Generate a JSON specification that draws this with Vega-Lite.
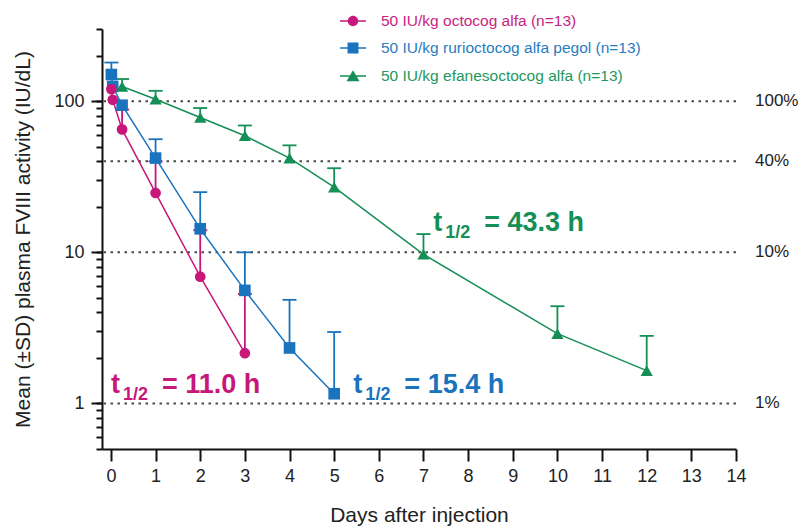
{
  "$schema": "https://vega.github.io/schema/vega-lite/v6.json",
  "width": 634,
  "height": 420,
  "autosize": {"type": "none"},
  "padding": {"left": 102, "top": 29, "right": 75, "bottom": 82},
  "background": "white",
  "config": {
    "view": {"stroke": null},
    "font": "Liberation Sans",
    "axis": {"grid": false}
  },
  "datasets": {
    "pk": [
      {"drug": "rurioctocog", "series": "50 IU/kg rurioctocog alfa pegol (n=13)", "day": 0.01, "mean": 150, "upper": 180},
      {"drug": "rurioctocog", "series": "50 IU/kg rurioctocog alfa pegol (n=13)", "day": 0.04, "mean": 125, "upper": null},
      {"drug": "rurioctocog", "series": "50 IU/kg rurioctocog alfa pegol (n=13)", "day": 0.25, "mean": 94, "upper": null},
      {"drug": "rurioctocog", "series": "50 IU/kg rurioctocog alfa pegol (n=13)", "day": 1, "mean": 42, "upper": 56},
      {"drug": "rurioctocog", "series": "50 IU/kg rurioctocog alfa pegol (n=13)", "day": 2, "mean": 14.3, "upper": 25},
      {"drug": "rurioctocog", "series": "50 IU/kg rurioctocog alfa pegol (n=13)", "day": 3, "mean": 5.6, "upper": 10},
      {"drug": "rurioctocog", "series": "50 IU/kg rurioctocog alfa pegol (n=13)", "day": 4, "mean": 2.33, "upper": 4.85},
      {"drug": "rurioctocog", "series": "50 IU/kg rurioctocog alfa pegol (n=13)", "day": 5, "mean": 1.16, "upper": 2.97},
      {"drug": "octocog", "series": "50 IU/kg octocog alfa (n=13)", "day": 0.01, "mean": 120, "upper": null},
      {"drug": "octocog", "series": "50 IU/kg octocog alfa (n=13)", "day": 0.04, "mean": 102, "upper": null},
      {"drug": "octocog", "series": "50 IU/kg octocog alfa (n=13)", "day": 0.25, "mean": 65, "upper": 88},
      {"drug": "octocog", "series": "50 IU/kg octocog alfa (n=13)", "day": 1, "mean": 24.7, "upper": 40},
      {"drug": "octocog", "series": "50 IU/kg octocog alfa (n=13)", "day": 2, "mean": 6.9, "upper": 14},
      {"drug": "octocog", "series": "50 IU/kg octocog alfa (n=13)", "day": 3, "mean": 2.15, "upper": 5.3},
      {"drug": "efanesoctocog", "series": "50 IU/kg efanesoctocog alfa (n=13)", "day": 0.25, "mean": 125, "upper": 140},
      {"drug": "efanesoctocog", "series": "50 IU/kg efanesoctocog alfa (n=13)", "day": 1, "mean": 103, "upper": 117},
      {"drug": "efanesoctocog", "series": "50 IU/kg efanesoctocog alfa (n=13)", "day": 2, "mean": 78, "upper": 90},
      {"drug": "efanesoctocog", "series": "50 IU/kg efanesoctocog alfa (n=13)", "day": 3, "mean": 59, "upper": 69},
      {"drug": "efanesoctocog", "series": "50 IU/kg efanesoctocog alfa (n=13)", "day": 4, "mean": 42, "upper": 51},
      {"drug": "efanesoctocog", "series": "50 IU/kg efanesoctocog alfa (n=13)", "day": 5, "mean": 27, "upper": 36},
      {"drug": "efanesoctocog", "series": "50 IU/kg efanesoctocog alfa (n=13)", "day": 7, "mean": 9.7, "upper": 13.2},
      {"drug": "efanesoctocog", "series": "50 IU/kg efanesoctocog alfa (n=13)", "day": 10, "mean": 2.9, "upper": 4.4},
      {"drug": "efanesoctocog", "series": "50 IU/kg efanesoctocog alfa (n=13)", "day": 12, "mean": 1.65, "upper": 2.8}
    ],
    "levels": [
      {"level": 100, "label": "100%"},
      {"level": 40, "label": "40%"},
      {"level": 10, "label": "10%"},
      {"level": 1, "label": "1%"}
    ],
    "anchor": [{}]
  },
  "layer": [
    {
      "data": {"name": "levels"},
      "mark": {"type": "rule", "color": "#4a4a4a", "strokeWidth": 2, "strokeDash": [2.5, 4.5]},
      "encoding": {
        "y": {
          "field": "level", "type": "quantitative",
          "scale": {"type": "log", "domain": [0.5, 300], "nice": false},
          "axis": null
        }
      }
    },
    {
      "data": {"name": "levels"},
      "mark": {"type": "text", "align": "left", "baseline": "middle", "dx": 19, "fontSize": 17, "color": "#222"},
      "encoding": {
        "x": {"datum": 14, "type": "quantitative"},
        "y": {"field": "level", "type": "quantitative", "axis": null},
        "text": {"field": "label"}
      }
    },
    {
      "data": {"name": "pk"},
      "mark": {"type": "line", "strokeWidth": 1.5},
      "encoding": {
        "x": {
          "field": "day", "type": "quantitative",
          "scale": {"domain": [-0.2, 14], "nice": false, "zero": false},
          "axis": {
            "values": [0, 1, 2, 3, 4, 5, 6, 7, 8, 9, 10, 11, 12, 13, 14],
            "format": "d", "tickSize": 12, "tickWidth": 2, "tickColor": "#111",
            "domainColor": "#111", "domainWidth": 2,
            "labelFontSize": 18, "labelColor": "#222", "labelPadding": 6,
            "labelFlush": false, "labelOverlap": false,
            "title": "Days after injection", "titleFontSize": 21,
            "titleFontWeight": "normal", "titleColor": "#222", "titlePadding": 19
          }
        },
        "y": {
          "field": "mean", "type": "quantitative",
          "axis": {
            "orient": "left", "values": [1, 10, 100],
            "tickSize": 11, "tickWidth": 2, "tickColor": "#111",
            "labels": false, "domain": false, "title": null
          }
        },
        "detail": {"field": "drug"},
        "color": {
          "condition": [
            {"test": "datum.drug === 'octocog'", "value": "#c7177b"},
            {"test": "datum.drug === 'rurioctocog'", "value": "#1a73bd"}
          ],
          "value": "#148f55"
        }
      }
    },
    {
      "data": {"name": "pk"},
      "transform": [{"filter": "isValid(datum.upper)"}],
      "mark": {"type": "rule", "strokeWidth": 1.8},
      "encoding": {
        "x": {"field": "day", "type": "quantitative"},
        "y": {"field": "mean", "type": "quantitative", "axis": null},
        "y2": {"field": "upper"},
        "color": {
          "condition": [
            {"test": "datum.drug === 'octocog'", "value": "#c7177b"},
            {"test": "datum.drug === 'rurioctocog'", "value": "#1a73bd"}
          ],
          "value": "#148f55"
        }
      }
    },
    {
      "data": {"name": "pk"},
      "transform": [{"filter": "isValid(datum.upper)"}],
      "mark": {"type": "tick", "orient": "horizontal", "size": 14, "thickness": 1.8, "opacity": 1},
      "encoding": {
        "x": {"field": "day", "type": "quantitative"},
        "y": {"field": "upper", "type": "quantitative", "axis": null},
        "color": {
          "condition": [
            {"test": "datum.drug === 'octocog'", "value": "#c7177b"},
            {"test": "datum.drug === 'rurioctocog'", "value": "#1a73bd"}
          ],
          "value": "#148f55"
        }
      }
    },
    {
      "data": {"name": "pk"},
      "mark": {"type": "point", "filled": true, "opacity": 1},
      "encoding": {
        "x": {"field": "day", "type": "quantitative"},
        "y": {
          "field": "mean", "type": "quantitative",
          "axis": {
            "orient": "left",
            "values": [0.5, 0.6, 0.7, 0.8, 0.9, 1, 2, 3, 4, 5, 6, 7, 8, 9, 10, 20, 30, 40, 50, 60, 70, 80, 90, 100, 200, 300],
            "format": "~g",
            "labelExpr": "(datum.value == 1 || datum.value == 10 || datum.value == 100) ? datum.label : ''",
            "tickSize": 6, "tickWidth": 2, "tickColor": "#111",
            "domainColor": "#111", "domainWidth": 2,
            "labelFontSize": 18, "labelColor": "#222", "labelPadding": 12,
            "labelOverlap": false, "labelBound": false,
            "title": "Mean (±SD) plasma FVIII activity (IU/dL)",
            "titleFontSize": 21, "titleFontWeight": "normal", "titleColor": "#222",
            "titlePadding": 20
          }
        },
        "color": {
          "condition": [
            {"test": "datum.drug === 'octocog'", "value": "#c7177b"},
            {"test": "datum.drug === 'rurioctocog'", "value": "#1a73bd"}
          ],
          "value": "#148f55"
        },
        "shape": {
          "condition": [
            {"test": "datum.drug === 'octocog'", "value": "circle"},
            {"test": "datum.drug === 'rurioctocog'", "value": "square"}
          ],
          "value": "triangle-up"
        },
        "size": {
          "condition": [
            {"test": "datum.drug === 'octocog'", "value": 115},
            {"test": "datum.drug === 'rurioctocog'", "value": 135}
          ],
          "value": 150
        }
      }
    },
    {
      "data": {"name": "anchor"},
      "mark": {"type": "text", "text": "t", "align": "left", "baseline": "alphabetic", "fontSize": 27, "fontWeight": "bold", "color": "#c7177b"},
      "encoding": {"x": {"datum": 0, "type": "quantitative"}, "y": {"datum": 1.173, "type": "quantitative", "axis": null}}
    },
    {
      "data": {"name": "anchor"},
      "mark": {"type": "text", "text": "1/2", "align": "left", "baseline": "alphabetic", "fontSize": 18, "fontWeight": "bold", "color": "#c7177b", "dx": 12, "dy": 7},
      "encoding": {"x": {"datum": 0, "type": "quantitative"}, "y": {"datum": 1.173, "type": "quantitative", "axis": null}}
    },
    {
      "data": {"name": "anchor"},
      "mark": {"type": "text", "text": "= 11.0  h", "align": "left", "baseline": "alphabetic", "fontSize": 27, "fontWeight": "bold", "color": "#c7177b", "dx": 51},
      "encoding": {"x": {"datum": 0, "type": "quantitative"}, "y": {"datum": 1.173, "type": "quantitative", "axis": null}}
    },
    {
      "data": {"name": "anchor"},
      "mark": {"type": "text", "text": "t", "align": "left", "baseline": "alphabetic", "fontSize": 27, "fontWeight": "bold", "color": "#1a73bd"},
      "encoding": {"x": {"datum": 5.43, "type": "quantitative"}, "y": {"datum": 1.173, "type": "quantitative", "axis": null}}
    },
    {
      "data": {"name": "anchor"},
      "mark": {"type": "text", "text": "1/2", "align": "left", "baseline": "alphabetic", "fontSize": 18, "fontWeight": "bold", "color": "#1a73bd", "dx": 12, "dy": 7},
      "encoding": {"x": {"datum": 5.43, "type": "quantitative"}, "y": {"datum": 1.173, "type": "quantitative", "axis": null}}
    },
    {
      "data": {"name": "anchor"},
      "mark": {"type": "text", "text": "= 15.4  h", "align": "left", "baseline": "alphabetic", "fontSize": 27, "fontWeight": "bold", "color": "#1a73bd", "dx": 51},
      "encoding": {"x": {"datum": 5.43, "type": "quantitative"}, "y": {"datum": 1.173, "type": "quantitative", "axis": null}}
    },
    {
      "data": {"name": "anchor"},
      "mark": {"type": "text", "text": "t", "align": "left", "baseline": "alphabetic", "fontSize": 27, "fontWeight": "bold", "color": "#148f55"},
      "encoding": {"x": {"datum": 7.22, "type": "quantitative"}, "y": {"datum": 13.83, "type": "quantitative", "axis": null}}
    },
    {
      "data": {"name": "anchor"},
      "mark": {"type": "text", "text": "1/2", "align": "left", "baseline": "alphabetic", "fontSize": 18, "fontWeight": "bold", "color": "#148f55", "dx": 12, "dy": 7},
      "encoding": {"x": {"datum": 7.22, "type": "quantitative"}, "y": {"datum": 13.83, "type": "quantitative", "axis": null}}
    },
    {
      "data": {"name": "anchor"},
      "mark": {"type": "text", "text": "= 43.3  h", "align": "left", "baseline": "alphabetic", "fontSize": 27, "fontWeight": "bold", "color": "#148f55", "dx": 51},
      "encoding": {"x": {"datum": 7.22, "type": "quantitative"}, "y": {"datum": 13.83, "type": "quantitative", "axis": null}}
    },
    {
      "data": {"name": "pk"},
      "transform": [{"filter": "false"}],
      "mark": {"type": "point", "filled": true, "opacity": 1},
      "encoding": {
        "color": {
          "field": "series", "type": "nominal",
          "scale": {"domain": ["50 IU/kg octocog alfa (n=13)"], "range": ["#c7177b"]},
          "legend": {"orient": "none", "legendX": 238, "legendY": -21, "title": null, "padding": 0, "labelColor": "#c8237f", "labelFont": "Liberation Sans", "labelFontSize": 15.5, "labelLimit": 400, "symbolSize": 676, "symbolStrokeWidth": 0, "labelOffset": 15}
        },
        "shape": {
          "field": "series", "type": "nominal",
          "scale": {"domain": ["50 IU/kg octocog alfa (n=13)"], "range": ["M-0.4,0A0.4,0.4 0 1,1 0.4,0A0.4,0.4 0 1,1 -0.4,0Z M-1,-0.06H-0.38V0.06H-1Z M0.38,-0.06H1V0.06H0.38Z"]},
          "legend": {"orient": "none", "legendX": 238, "legendY": -21, "title": null, "padding": 0, "labelColor": "#c8237f", "labelFont": "Liberation Sans", "labelFontSize": 15.5, "labelLimit": 400, "symbolSize": 676, "symbolStrokeWidth": 0, "labelOffset": 15}
        }
      }
    },
    {
      "data": {"name": "pk"},
      "transform": [{"filter": "false"}],
      "mark": {"type": "point", "filled": true, "opacity": 1},
      "encoding": {
        "color": {
          "field": "series", "type": "nominal",
          "scale": {"domain": ["50 IU/kg rurioctocog alfa pegol (n=13)"], "range": ["#1a73bd"]},
          "legend": {"orient": "none", "legendX": 238, "legendY": 6, "title": null, "padding": 0, "labelColor": "#2a7cc0", "labelFont": "Liberation Sans", "labelFontSize": 15.5, "labelLimit": 400, "symbolSize": 676, "symbolStrokeWidth": 0, "labelOffset": 15}
        },
        "shape": {
          "field": "series", "type": "nominal",
          "scale": {"domain": ["50 IU/kg rurioctocog alfa pegol (n=13)"], "range": ["M-0.42,-0.42H0.42V0.42H-0.42Z M-1,-0.06H-0.3V0.06H-1Z M0.3,-0.06H1V0.06H0.3Z"]},
          "legend": {"orient": "none", "legendX": 238, "legendY": 6, "title": null, "padding": 0, "labelColor": "#2a7cc0", "labelFont": "Liberation Sans", "labelFontSize": 15.5, "labelLimit": 400, "symbolSize": 676, "symbolStrokeWidth": 0, "labelOffset": 15}
        }
      }
    },
    {
      "data": {"name": "pk"},
      "transform": [{"filter": "false"}],
      "mark": {"type": "point", "filled": true, "opacity": 1},
      "encoding": {
        "color": {
          "field": "series", "type": "nominal",
          "scale": {"domain": ["50 IU/kg efanesoctocog alfa (n=13)"], "range": ["#148f55"]},
          "legend": {"orient": "none", "legendX": 238, "legendY": 34, "title": null, "padding": 0, "labelColor": "#23985e", "labelFont": "Liberation Sans", "labelFontSize": 15.5, "labelLimit": 400, "symbolSize": 676, "symbolStrokeWidth": 0, "labelOffset": 15}
        },
        "shape": {
          "field": "series", "type": "nominal",
          "scale": {"domain": ["50 IU/kg efanesoctocog alfa (n=13)"], "range": ["M0,-0.45L0.5,0.4H-0.5Z M-1,-0.06H1V0.06H-1Z"]},
          "legend": {"orient": "none", "legendX": 238, "legendY": 34, "title": null, "padding": 0, "labelColor": "#23985e", "labelFont": "Liberation Sans", "labelFontSize": 15.5, "labelLimit": 400, "symbolSize": 676, "symbolStrokeWidth": 0, "labelOffset": 15}
        }
      }
    }
  ],
  "resolve": {
    "scale": {"color": "independent", "shape": "independent"},
    "legend": {"color": "independent", "shape": "independent"},
    "axis": {"y": "independent"}
  }
}
